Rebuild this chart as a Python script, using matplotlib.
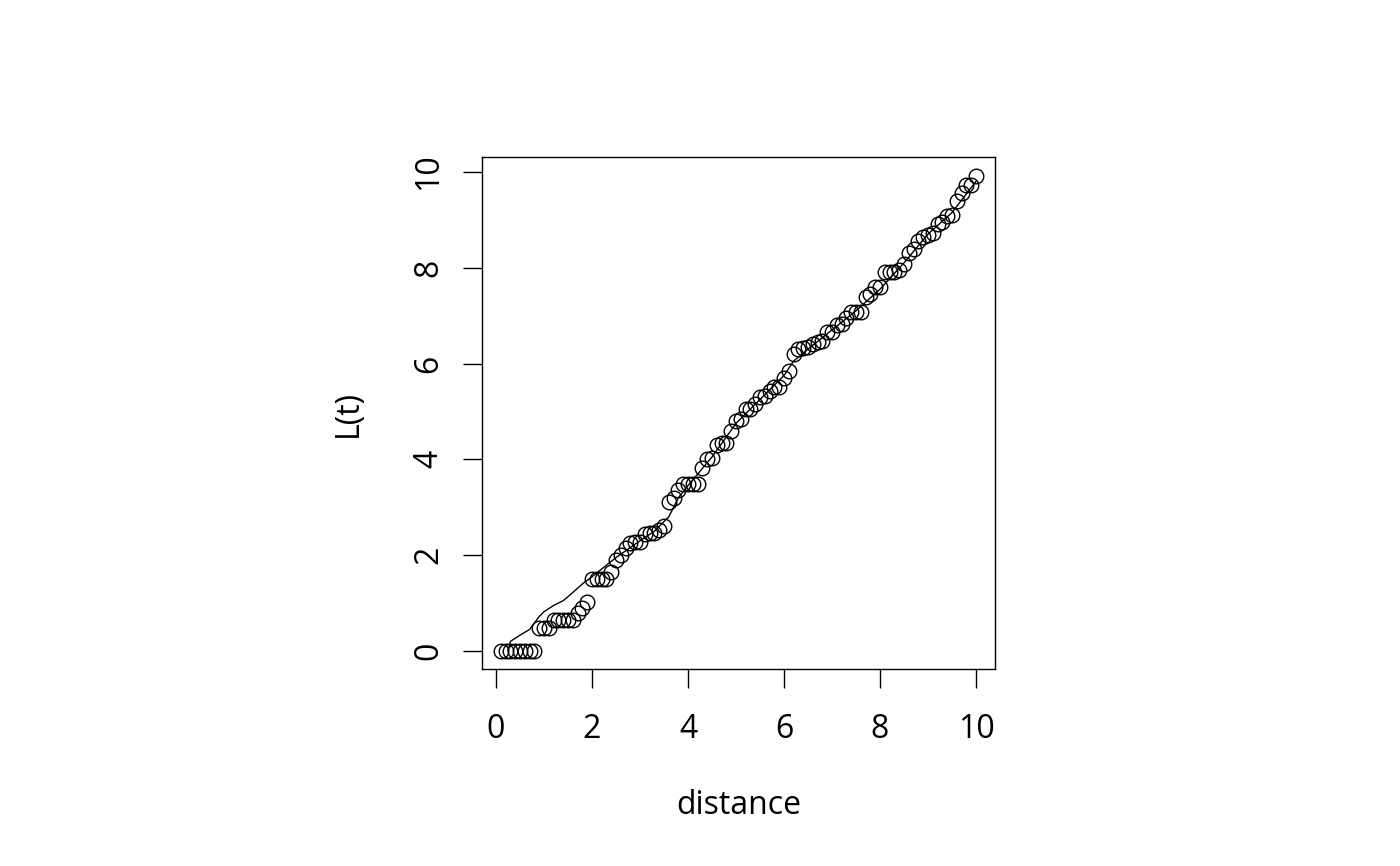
import matplotlib.pyplot as plt
import numpy as np

plt.rcParams['font.family'] = ['Open Sans', 'DejaVu Sans']

# observed L(t) at distances 0.1 .. 10
distance = np.round(np.arange(1, 101) * 0.1, 1)
L_obs = [0, 0, 0, 0, 0, 0, 0, 0, 0.47, 0.47,
         0.47, 0.65, 0.65, 0.65, 0.65, 0.65, 0.8, 0.9, 1.03, 1.5,
         1.5, 1.5, 1.5, 1.65, 1.9, 2.0, 2.15, 2.25, 2.27, 2.27,
         2.45, 2.47, 2.47, 2.52, 2.6, 3.1, 3.2, 3.35, 3.48, 3.48,
         3.48, 3.48, 3.82, 4.0, 4.02, 4.3, 4.35, 4.35, 4.6, 4.8,
         4.85, 5.05, 5.05, 5.15, 5.3, 5.32, 5.42, 5.5, 5.5, 5.7,
         5.85, 6.2, 6.3, 6.32, 6.35, 6.4, 6.45, 6.47, 6.65, 6.65,
         6.8, 6.82, 6.95, 7.07, 7.07, 7.07, 7.38, 7.45, 7.6, 7.6,
         7.9, 7.9, 7.92, 7.95, 8.08, 8.3, 8.4, 8.55, 8.65, 8.68,
         8.72, 8.92, 8.95, 9.08, 9.1, 9.4, 9.55, 9.72, 9.72, 9.92]

# reference curve
line_x = [0.25, 0.3, 0.5, 0.7, 0.9, 1.0, 1.2, 1.4, 1.6, 1.8, 2.0, 2.5, 3.0, 3.3,
          3.6, 3.8, 4.0, 4.5, 5.0, 5.5, 6.0, 6.2, 6.5, 7.0, 7.5, 8.0, 8.5, 9.0, 9.5, 10.0]
line_y = [0.0, 0.2, 0.33, 0.45, 0.72, 0.82, 0.95, 1.05, 1.22, 1.4, 1.55, 1.95, 2.3, 2.5,
          2.8, 3.2, 3.45, 4.05, 4.75, 5.25, 5.75, 6.05, 6.3, 6.7, 7.1, 7.55, 8.1, 8.7, 9.15, 9.8]

fig = plt.figure(figsize=(14, 8.66), dpi=100)
ax = fig.add_axes([0.3443, 0.2275, 0.3664, 0.5912])

ax.plot(distance, L_obs, 'o', mfc='none', mec='black', ms=10.5, mew=1.0)
ax.plot(line_x, line_y, color='black', lw=1.0)

ax.set_xlim(-0.292, 10.396)
ax.set_ylim(-0.376, 10.31)
ax.set_xticks([0, 2, 4, 6, 8, 10])
ax.set_yticks([0, 2, 4, 6, 8, 10])
ax.tick_params(axis='both', length=13.5, width=1.0, labelsize=23)
ax.tick_params(axis='x', pad=18)
ax.tick_params(axis='y', pad=13)
plt.setp(ax.get_yticklabels(), rotation=90, va='center')
for s in ax.spines.values():
    s.set_linewidth(1.0)

ax.set_xlabel("distance", fontsize=23, labelpad=31)
ax.set_ylabel("L(t)", fontsize=23, labelpad=34)

fig.savefig("out.png", dpi=100)
